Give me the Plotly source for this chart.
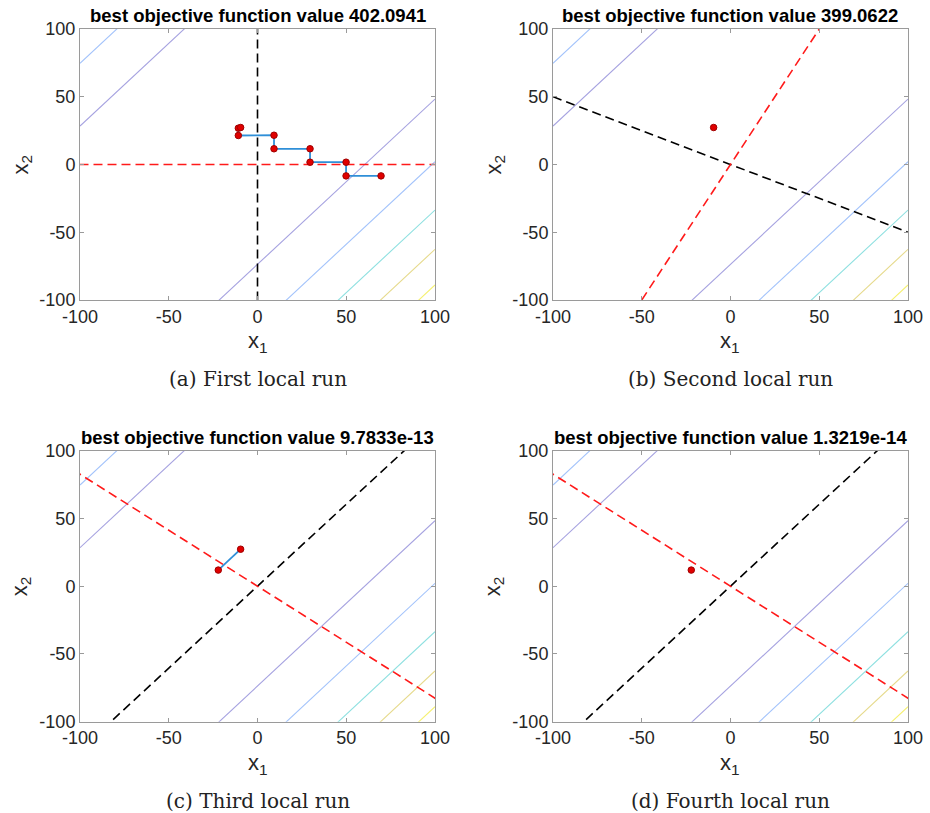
import numpy as np
import plotly.graph_objects as go

# ---------------- data ----------------
titles = ["best objective function value 402.0941",
          "best objective function value 399.0622",
          "best objective function value 9.7833e-13",
          "best objective function value 1.3219e-14"]
captions = ["(a) First local run", "(b) Second local run",
            "(c) Third local run", "(d) Fourth local run"]

# contour lines (level sets are parallel lines x2 = slope*x1 + intercept)
contour_slope = 1.22
contour_intercepts = [196.7, 150.4, -73.7, -119.9, -155.6, -184.6, -210.9]
contour_colors = ["#a3c3fb", "#a6a2e0", "#a6a2e0", "#a3c3fb", "#8ee0e0", "#e6da8c", "#f5f070"]

# search directions per run (direction vectors through origin): [black, red]
dir_black = [(0.0, 1.0), (2.0, -1.0), (1.0, 1.21), (1.0, 1.21)]
dir_red = [(1.0, 0.0), (1.0, 2.0), (1.21, -1.0), (1.21, -1.0)]

# iterates per run
run_x1 = [
    [69.6, 49.9, 49.9, 29.6, 29.6, 9.3, 9.3, -10.8, -10.8, -9.5],
    [-9.5],
    [-9.5, -22.1],
    [-22.1],
]
run_x2 = [
    [-8.4, -8.4, 1.7, 1.7, 11.6, 11.6, 21.6, 21.4, 26.8, 27.3],
    [27.3],
    [27.3, 11.9],
    [11.9],
]

tick_vals = [-100, -50, 0, 50, 100]
tick_text = ["-100", "-50", "0", "50", "100"]

# ---------------- layout ----------------
W, H = 930, 813
xdoms = [[80 / W, 435 / W], [553 / W, 908 / W], [80 / W, 435 / W], [553 / W, 908 / W]]
ydoms = [[1 - 300 / H, 1 - 29 / H], [1 - 300 / H, 1 - 29 / H],
         [1 - 721.7 / H, 1 - 450.7 / H], [1 - 721.7 / H, 1 - 450.7 / H]]

fig = go.Figure()
span = np.array([-400.0, 400.0])

for i in range(4):
    xa = "x" if i == 0 else f"x{i+1}"
    ya = "y" if i == 0 else f"y{i+1}"
    # contour lines
    for c, col in zip(contour_intercepts, contour_colors):
        xs = np.array([-100.0, 100.0])
        fig.add_trace(go.Scatter(x=xs, y=contour_slope * xs + c, mode="lines",
                                 line=dict(color=col, width=1.1), xaxis=xa, yaxis=ya,
                                 showlegend=False, hoverinfo="skip"))
    # direction lines
    for d, col in ((dir_black[i], "black"), (dir_red[i], "#ff1a1a")):
        t = span
        fig.add_trace(go.Scatter(x=d[0] * t, y=d[1] * t, mode="lines",
                                 line=dict(color=col, width=1.6, dash="9px,5px"),
                                 xaxis=xa, yaxis=ya, showlegend=False, hoverinfo="skip"))
    # iterates
    fig.add_trace(go.Scatter(x=run_x1[i], y=run_x2[i], mode="lines+markers",
                             line=dict(color="#2f8fd8", width=1.8),
                             marker=dict(color="#e00000", size=6.5,
                                         line=dict(color="#a00000", width=1)),
                             xaxis=xa, yaxis=ya, showlegend=False))

    axis_common = dict(range=[-100, 100], tickvals=tick_vals, ticktext=tick_text,
                       ticks="inside", ticklen=4, tickcolor="#9a9a9a",
                       showline=True, linecolor="#9a9a9a", linewidth=1,
                       mirror="allticks", showgrid=False, zeroline=False,
                       automargin=False,
                       tickfont=dict(family="Liberation Sans, Arial", size=18, color="#262626"))
    fig.layout[("xaxis" if i == 0 else f"xaxis{i+1}")] = dict(
        domain=xdoms[i], anchor=ya, **axis_common)
    fig.layout[("yaxis" if i == 0 else f"yaxis{i+1}")] = dict(
        domain=ydoms[i], anchor=xa, **axis_common)

    cx = (xdoms[i][0] + xdoms[i][1]) / 2
    top = ydoms[i][1]
    bot = ydoms[i][0]
    fig.add_annotation(text=f"<b>{titles[i]}</b>", xref="paper", yref="paper",
                       x=cx, y=top + 1 / H, xanchor="center", yanchor="bottom",
                       showarrow=False,
                       font=dict(family="Liberation Sans, Arial", size=18.5, color="black"))
    fig.add_annotation(text="x<sub>1</sub>", xref="paper", yref="paper",
                       x=cx, y=bot - 26 / H, xanchor="center", yanchor="top",
                       showarrow=False,
                       font=dict(family="Liberation Sans, Arial", size=22, color="#262626"))
    fig.add_annotation(text="x<sub>2</sub>", xref="paper", yref="paper",
                       x=xdoms[i][0] - 59 / W, y=(top + bot) / 2, xanchor="center",
                       yanchor="middle", textangle=-90, showarrow=False,
                       font=dict(family="Liberation Sans, Arial", size=22, color="#262626"))
    fig.add_annotation(text=captions[i], xref="paper", yref="paper",
                       x=cx, y=bot - 65 / H, xanchor="center", yanchor="top",
                       showarrow=False,
                       font=dict(family="DejaVu Serif, Liberation Serif", size=20, color="#222222"))

fig.update_layout(width=W, height=H, margin=dict(l=0, r=0, t=0, b=0),
                  paper_bgcolor="white", plot_bgcolor="white")
fig.write_html("out.html", config={"displayModeBar": False},
               post_script="document.body.style.margin='0';document.body.style.overflow='hidden';")
